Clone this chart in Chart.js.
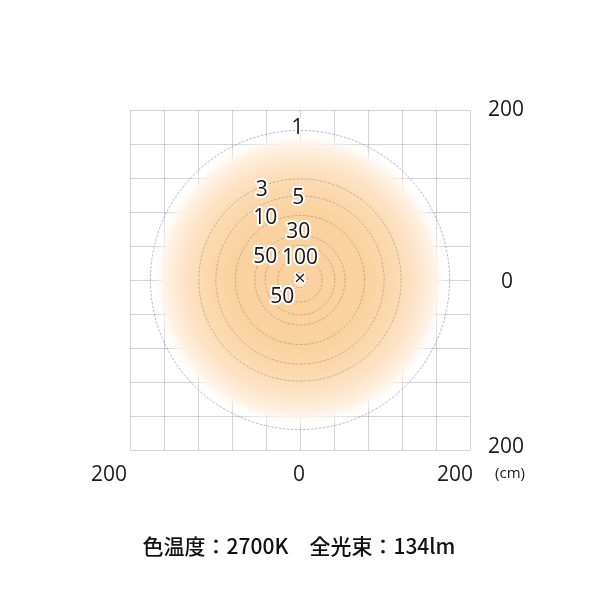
<!DOCTYPE html>
<html>
<head>
<meta charset="utf-8">
<script src="https://cdn.jsdelivr.net/npm/chart.js@4"></script>
<style>
html,body{margin:0;padding:0;background:#fff;}
canvas{display:block;}
</style>
</head>
<body>
<canvas id="c" width="600" height="600"></canvas>
<script>
// Illuminance contour levels (lx) and their radii (cm)
const levels = [1, 3, 5, 10, 30, 50, 100, 500];
const radiiCm = [176, 119, 99, 76, 53, 41, 26, 9];
// contour label texts and their positions (cm)
const labelTexts = ['1', '3', '5', '10', '30', '50', '100', '50'];
const labelX = [-3, -45, -2, -41, -2, -41, 0, -21];
const labelY = [179, 106, 97, 73, 56, 27, 26, -20];
// axis tick labels
const xTickLabels = ['200', '0', '200'];
const yTickLabels = ['200', '0', '200'];
const unitLabel = '(cm)';
const caption = '色温度：2700K　全光束：134lm';

function circlePoints(r) {
  const pts = [];
  const n = 180;
  for (let i = 0; i <= n; i++) {
    const a = (i / n) * Math.PI * 2;
    pts.push({x: r * Math.cos(a), y: r * Math.sin(a)});
  }
  return pts;
}

const datasets = [];
// filled glow area bounded by the outermost contour
datasets.push({
  data: circlePoints(radiiCm[0]),
  showLine: true,
  pointRadius: 0,
  borderWidth: 0,
  borderColor: 'rgba(0,0,0,0)',
  fill: 'shape',
  order: 20,
  backgroundColor: (ctx) => {
    const chart = ctx.chart;
    const {chartArea, scales} = chart;
    if (!chartArea) return 'rgba(0,0,0,0)';
    const cx = scales.x.getPixelForValue(0);
    const cy = scales.y.getPixelForValue(0);
    const R = scales.x.getPixelForValue(radiiCm[0]) - cx;
    const g = chart.ctx.createRadialGradient(cx, cy, 0, cx, cy, R);
    g.addColorStop(0, '#fdf3e6');
    g.addColorStop(0.07, '#fad19e');
    g.addColorStop(0.45, '#fad2a0');
    g.addColorStop(0.63, '#fbd9ae');
    g.addColorStop(0.78, '#fde4c8');
    g.addColorStop(0.9, '#fff2e6');
    g.addColorStop(1, 'rgba(255,255,255,0)');
    return g;
  }
});
radiiCm.forEach((r, i) => {
  datasets.push({
    label: levels[i] + ' lx',
    data: circlePoints(r),
    showLine: true,
    pointRadius: 0,
    borderWidth: 1,
    borderColor: i === 0 ? 'rgba(160,160,185,0.75)' : 'rgba(130,120,115,0.45)',
    borderDash: [2.5, 1.5],
    fill: false,
    tension: 0,
    order: 10 - i
  });
});

const textPlugin = {
  id: 'texts',
  afterDraw(chart) {
    const ctx = chart.ctx;
    const xs = chart.scales.x, ys = chart.scales.y;
    ctx.save();
    ctx.textAlign = 'center';
    ctx.textBaseline = 'middle';
    // contour labels with white halo
    ctx.font = '21px "Open Sans", "Noto Sans", sans-serif';
    ctx.lineJoin = 'round';
    for (let i = 0; i < labelTexts.length; i++) {
      const px = xs.getPixelForValue(labelX[i]);
      const py = ys.getPixelForValue(labelY[i]);
      ctx.strokeStyle = 'rgba(255,255,255,0.95)';
      ctx.lineWidth = 4;
      ctx.strokeText(labelTexts[i], px, py);
      ctx.fillStyle = '#151515';
      ctx.fillText(labelTexts[i], px, py);
    }
    // center mark
    const cx = xs.getPixelForValue(0), cy = ys.getPixelForValue(0);
    ctx.strokeStyle = 'rgba(255,255,255,0.9)';
    ctx.lineWidth = 3;
    ctx.font = '20px "Open Sans", sans-serif';
    ctx.strokeText('×', cx, cy - 1);
    ctx.fillStyle = '#151515';
    ctx.fillText('×', cx, cy - 1);

    // axis labels
    ctx.font = '21px "Open Sans", "Noto Sans", sans-serif';
    ctx.fillStyle = '#1a1a1a';
    const bottomY = chart.chartArea.bottom + 25;
    ctx.fillText(xTickLabels[0], xs.getPixelForValue(-200) - 21, bottomY);
    ctx.fillText(xTickLabels[1], xs.getPixelForValue(0) - 1, bottomY);
    ctx.fillText(xTickLabels[2], xs.getPixelForValue(200) - 15, bottomY);
    const rightX = chart.chartArea.right + 36;
    ctx.fillText(yTickLabels[0], rightX, ys.getPixelForValue(200));
    ctx.fillText(yTickLabels[1], rightX + 1, ys.getPixelForValue(0) + 2);
    ctx.fillText(yTickLabels[2], rightX, ys.getPixelForValue(-200) - 3);
    ctx.font = '15px "Open Sans", "Noto Sans", sans-serif';
    ctx.fillText(unitLabel, rightX + 4, bottomY - 1);

    // caption
    ctx.font = '500 21px "Noto Sans CJK JP", sans-serif';
    ctx.fillStyle = '#111';
    ctx.fillText(caption, 299, chart.chartArea.bottom + 96);
    ctx.restore();
  }
};

new Chart(document.getElementById('c'), {
  type: 'scatter',
  data: {datasets},
  options: {
    responsive: false,
    animation: false,
    events: [],
    layout: {padding: {left: 130, right: 130, top: 110, bottom: 150}},
    plugins: {legend: {display: false}, tooltip: {enabled: false}},
    scales: {
      x: {
        type: 'linear', min: -200, max: 200, z: 1,
        ticks: {display: false, stepSize: 40},
        grid: {color: 'rgba(0,0,0,0.17)', lineWidth: 1, drawTicks: false},
        border: {display: false}
      },
      y: {
        type: 'linear', min: -200, max: 200, z: 1,
        ticks: {display: false, stepSize: 40},
        grid: {color: 'rgba(0,0,0,0.17)', lineWidth: 1, drawTicks: false},
        border: {display: false}
      }
    }
  },
  plugins: [textPlugin]
});
</script>
</body>
</html>
